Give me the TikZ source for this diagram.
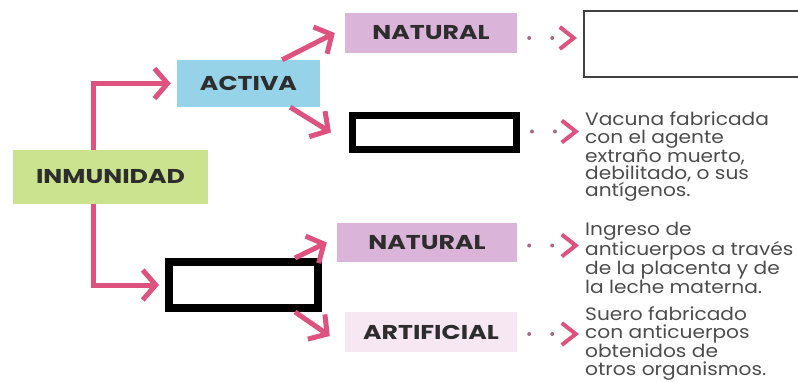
\documentclass[tikz,border=0pt]{standalone}
\usepackage{fontspec}
\setmainfont{Poppins}[FakeStretch=1.26]
\newfontfamily\notefont{Poppins}[FakeStretch=1.12]
\usetikzlibrary{arrows.meta}
\definecolor{inmungreen}{RGB}{203,226,143}
\definecolor{activablue}{RGB}{150,211,232}
\definecolor{naturalpink}{RGB}{218,180,217}
\definecolor{artifpink}{RGB}{246,231,243}
\definecolor{arrowpink}{RGB}{222,82,128}
\definecolor{textgray}{RGB}{45,45,45}

\begin{document}
\begin{tikzpicture}[x=1pt, y=1pt, node distance=180pt]
    \tikzstyle{concept} = [rectangle, inner sep=0pt, text=textgray, font=\fontsize{20}{20}\selectfont\bfseries]
    \tikzstyle{blank} = [rectangle, draw=black, inner sep=0pt]
    \tikzstyle{note} = [inner sep=0pt, anchor=north west, align=left, text=textgray!85!white, font=\notefont\fontsize{18}{17.4}\selectfont]
    \tikzstyle{arrow} = [line width=5pt, draw=arrowpink, -{Straight Barb[length=13pt,width=30pt]}]
    \tikzstyle{dotarrow} = [line width=4pt, draw=arrowpink!45!gray, line cap=round, dash pattern=on 0pt off 23pt, -{Straight Barb[length=14pt,width=22pt,color=arrowpink]}, shorten <=12pt, shorten >=6pt]

    \useasboundingbox (0,0) rectangle (798,381);

    \node[concept, fill=inmungreen, minimum width=195pt, minimum height=54pt] (inmunidad) at (110.5,204) {INMUNIDAD};
    \node[concept, fill=activablue, minimum width=143pt, minimum height=47pt, right of=inmunidad, xshift=-42pt, yshift=93.5pt] (activa) {ACTIVA};
    \node[blank, line width=8pt, minimum width=149pt, minimum height=46pt, right of=inmunidad, xshift=-47pt, yshift=-108pt] (pasiva) {};

    \node[concept, fill=naturalpink, minimum width=172pt, minimum height=40pt, right of=activa, xshift=2.5pt, yshift=50.5pt] (natural1) {NATURAL};
    \node[blank, line width=7pt, minimum width=164pt, minimum height=34pt, right of=activa, xshift=6pt, yshift=-49pt] (artificial1) {};
    \node[concept, fill=naturalpink, minimum width=180pt, minimum height=39pt, right of=pasiva, xshift=3.5pt, yshift=42.5pt] (natural2) {NATURAL};
    \node[concept, fill=artifpink, minimum width=172pt, minimum height=40pt, right of=pasiva, xshift=7.5pt, yshift=-47pt] (artificial2) {ARTIFICIAL};

    \node[blank, draw=black!75, line width=2pt, minimum width=218pt, minimum height=66pt, right of=natural1, xshift=82pt, yshift=-11pt] (respuesta) {};
    \node[note] (vacuna) at (585,269) {Vacuna fabricada\\con el agente\\extraño muerto,\\debilitado, o sus\\antígenos.};
    \node[note] (ingreso) at (585,159) {Ingreso de\\anticuerpos a través\\de la placenta y de\\la leche materna.};
    \node[note] (suero) at (585,74) {Suero fabricado\\con anticuerpos\\obtenidos de\\otros organismos.};

    \draw[arrow, shorten >=6pt] ([xshift=-17.5pt]inmunidad.north) |- (activa);
    \draw[arrow, shorten >=6pt] ([xshift=-17.5pt]inmunidad.south) |- (pasiva);
    \draw[arrow] ([xshift=-38pt]activa.north east) -- ([xshift=-10pt]natural1.west);
    \draw[arrow] ([xshift=-30pt]activa.south east) -- ([xshift=-18pt]artificial1.west);
    \draw[arrow] ([xshift=-27pt]pasiva.north east) -- ([xshift=-10pt]natural2.west);
    \draw[arrow] ([xshift=-27pt]pasiva.south east) -- ([xshift=-15pt,yshift=-4pt]artificial2.west);

    \draw[dotarrow] ([yshift=-5pt]natural1.east) -- ([yshift=-5pt]natural1.east -| respuesta.west);
    \draw[dotarrow] ([yshift=1pt]artificial1.east) -- ([yshift=1pt]artificial1.east -| vacuna.west);
    \draw[dotarrow] ([yshift=-3pt]natural2.east) -- ([yshift=-3pt]natural2.east -| ingreso.west);
    \draw[dotarrow] ([yshift=-2pt]artificial2.east) -- ([yshift=-2pt]artificial2.east -| suero.west);
\end{tikzpicture}
\end{document}
